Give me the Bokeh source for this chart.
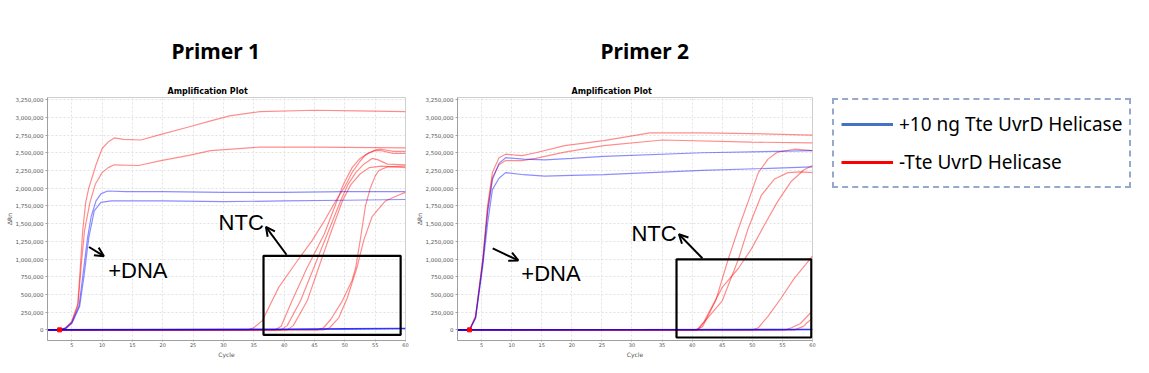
from bokeh.plotting import figure
from bokeh.models import (Range1d, FixedTicker, NumeralTickFormatter, Label, Arrow,
                          OpenHead, BoxAnnotation, Legend, LegendItem, Title)
from bokeh.layouts import row
from bokeh.embed import file_html
from bokeh.resources import INLINE

# ---------------- data (cycle, delta Rn in millions) ----------------
x_ticks = [5, 10, 15, 20, 25, 30, 35, 40, 45, 50, 55, 60]
y_ticks = [0, 250000, 500000, 750000, 1000000, 1250000, 1500000, 1750000,
           2000000, 2250000, 2500000, 2750000, 3000000, 3250000]
panel_titles = ["Primer 1", "Primer 2"]
legend_labels = ["+10 ng Tte UvrD Helicase", "-Tte UvrD Helicase"]
# off-range placeholder points used only as legend keys (never visible)
legend_key_x = [-2, -1]
legend_key_y = [-1, -1]
start_marker_cycle = [3]
start_marker_value = [0.0]

# Primer 1: +DNA with helicase (blue)
p1_dna_hel_a = [(1, 0), (3, 0), (4, 0.02), (5, 0.1), (5.5, 0.2), (6.2, 0.34), (6.8, 0.75),
                (7.6, 1.3), (8.2, 1.6), (9, 1.82), (9.8, 1.92), (10.9, 1.96), (14, 1.95),
                (20, 1.95), (30, 1.94), (40, 1.94), (50, 1.95), (60, 1.95)]
p1_dna_hel_b = [(1, 0), (3, 0), (4, 0.02), (5, 0.09), (5.5, 0.18), (6.3, 0.33), (7, 0.75),
                (7.8, 1.3), (8.7, 1.68), (9.8, 1.8), (11.5, 1.82), (20, 1.82), (30, 1.81),
                (40, 1.82), (50, 1.83), (60, 1.84)]
# Primer 1: +DNA without helicase (red)
p1_dna_nohel_a = [(1, 0), (3, 0), (4, 0.03), (5, 0.12), (6, 0.37), (6.5, 1.0), (6.8, 1.4),
                  (7.3, 1.8), (7.8, 2.0), (9, 2.33), (10, 2.56), (11.1, 2.66), (12, 2.71),
                  (13.5, 2.69), (16.4, 2.68), (19.7, 2.76), (24.1, 2.86), (27.9, 2.95),
                  (31, 3.02), (36, 3.08), (45, 3.1), (52, 3.09), (60, 3.08)]
p1_dna_nohel_b = [(1, 0), (3, 0), (4, 0.03), (5, 0.11), (6, 0.34), (6.6, 0.95), (7.1, 1.4),
                  (8, 1.8), (8.9, 2.06), (10, 2.22), (11, 2.29), (12, 2.33), (16, 2.32),
                  (19.7, 2.39), (24.1, 2.46), (27.9, 2.53), (36, 2.58), (45, 2.58), (60, 2.57)]
# Primer 1: NTC with helicase (blue)
p1_ntc_hel = [(1, 0), (20, 0.004), (40, 0.008), (50, 0.014), (60, 0.02)]
# Primer 1: NTC without helicase (red)
p1_ntc_nohel_a = [(1, 0), (34, 0), (35, 0.03), (36.4, 0.13), (39.1, 0.6), (41.8, 0.93),
                  (44.6, 1.26), (46.5, 1.52), (48.5, 1.82), (50, 2.02), (51.2, 2.22),
                  (52.5, 2.38), (53.4, 2.47), (55, 2.54), (56, 2.55), (58, 2.52), (60, 2.52)]
p1_ntc_nohel_b = [(1, 0), (38.5, 0), (39.5, 0.05), (41.3, 0.41), (43.8, 0.88), (46.6, 1.35),
                  (48.7, 1.82), (49.8, 2.06), (51.2, 2.29), (52.5, 2.42), (54, 2.5),
                  (55, 2.53), (56, 2.53), (58, 2.49), (60, 2.49)]
p1_ntc_nohel_c = [(1, 0), (39.5, 0), (40.5, 0.06), (42.7, 0.41), (44.9, 0.88), (47.1, 1.35),
                  (49.3, 1.82), (50.5, 2.05), (51.8, 2.22), (53, 2.33), (54.5, 2.42),
                  (55.5, 2.4), (57, 2.34), (60, 2.33)]
p1_ntc_nohel_d = [(1, 0), (40.5, 0), (41.5, 0.06), (43.8, 0.41), (45.7, 0.88), (47.6, 1.35),
                  (49.6, 1.82), (51, 2.05), (52.5, 2.2), (54, 2.29), (56, 2.31), (60, 2.29)]
p1_ntc_nohel_e = [(1, 0), (45.5, 0), (46.5, 0.03), (47.7, 0.15), (49.6, 0.41), (51.2, 0.7),
                  (51.8, 0.88), (52.6, 1.3), (53.4, 1.75), (54.2, 2.0), (55, 2.17),
                  (55.6, 2.25), (57, 2.3), (60, 2.31)]
p1_ntc_nohel_f = [(1, 0), (46.5, 0), (47.5, 0.03), (49, 0.17), (50.4, 0.45), (52, 0.88),
                  (53.1, 1.26), (54.5, 1.6), (55.5, 1.7), (56.7, 1.82), (58.5, 1.89), (60, 1.94)]

# Primer 2: +DNA with helicase (blue)
p2_dna_hel_a = [(1, 0), (3, 0), (4, 0.17), (5.2, 0.95), (6, 1.65), (6.8, 2.12), (7.9, 2.35),
                (9, 2.43), (12, 2.41), (15.5, 2.4), (20, 2.42), (25.3, 2.45), (41.7, 2.5),
                (60, 2.53)]
p2_dna_hel_b = [(1, 0), (3, 0), (4, 0.16), (5.2, 0.9), (6, 1.5), (6.8, 1.98), (7.9, 2.14),
                (9, 2.22), (12, 2.19), (15.5, 2.17), (20, 2.18), (25.3, 2.19), (41.7, 2.25),
                (60, 2.3)]
# Primer 2: +DNA without helicase (red)
p2_dna_nohel_a = [(1, 0), (3, 0), (4, 0.2), (5.2, 1.0), (6, 1.75), (6.8, 2.22), (7.9, 2.43),
                  (9, 2.48), (10.3, 2.47), (11.7, 2.46), (14, 2.5), (18.8, 2.6), (25.3, 2.67),
                  (33, 2.78), (41.7, 2.78), (49.9, 2.77), (60, 2.75)]
p2_dna_nohel_b = [(1, 0), (3, 0), (4, 0.18), (5.2, 0.98), (6, 1.7), (6.8, 2.15), (7.9, 2.33),
                  (9, 2.39), (11.7, 2.39), (14, 2.42), (18.8, 2.51), (25.3, 2.6), (35.1, 2.68),
                  (49.9, 2.65), (60, 2.64)]
# Primer 2: NTC with helicase (blue)
p2_ntc_hel = [(1, 0), (30, 0.002), (60, 0.005)]
# Primer 2: NTC without helicase (red)
p2_ntc_nohel_a = [(1, 0), (40.5, 0), (41.7, 0.04), (43.9, 0.41), (46, 1.0), (47.7, 1.43),
                  (49.3, 1.81), (51, 2.22), (52.6, 2.41), (54.2, 2.51), (57, 2.55), (60, 2.53)]
p2_ntc_nohel_b = [(1, 0), (41, 0), (42.2, 0.13), (45, 0.41), (47.7, 1.0), (49.3, 1.43),
                  (51.5, 1.9), (53.7, 2.13), (55.9, 2.22), (58, 2.23), (60, 2.22)]
p2_ntc_nohel_c = [(1, 0), (40.8, 0), (42, 0.12), (45, 0.6), (47.7, 0.87), (49.9, 1.15),
                  (52, 1.48), (54.2, 1.81), (56.4, 2.09), (58.6, 2.26), (60, 2.32)]
p2_ntc_nohel_d = [(1, 0), (50, 0), (51, 0.03), (52.6, 0.19), (54.8, 0.45), (57, 0.73), (60, 1.04)]
p2_ntc_nohel_e = [(1, 0), (55.5, 0), (56.5, 0.03), (58, 0.09), (60, 0.27)]
p2_ntc_nohel_f = [(1, 0), (57, 0), (58.5, 0.05), (59.1, 0.1), (60, 0.17)]

RED = "#ff0000"
BLUE = "#0000ff"
H = 365
TOP = 97
BOTTOM = 25


def xs_ys(curve):
    return [c for c, _ in curve], [v * 1e6 for _, v in curve]


def make_panel(width, left_border, right_border, red_curves, blue_curves, ntc_blue, title,
               title_off, sub_off, dna_label, dna_arrow, ntc_label, ntc_arrow, box):
    p = figure(width=width, height=H, x_range=Range1d(1, 60),
               y_range=Range1d(-150000, 3280000), output_backend="svg",
               toolbar_location=None, title=None,
               min_border_left=left_border, min_border_right=right_border,
               min_border_top=TOP, min_border_bottom=BOTTOM)
    p.background_fill_color = "white"
    p.border_fill_color = "white"
    p.outline_line_color = "#cfcfcf"

    for ax in (p.xaxis[0], p.yaxis[0]):
        ax.axis_line_color = "#a0a0a0"
        ax.major_tick_line_color = "#a0a0a0"
        ax.major_tick_in = 0
        ax.minor_tick_line_color = None
        ax.major_label_text_color = "#555555"
        ax.major_label_text_font = "DejaVu Sans"
        ax.axis_label_text_font = "DejaVu Sans"
        ax.axis_label_text_font_style = "normal"
        ax.axis_label_text_color = "#555555"
        ax.axis_label_text_font_size = "6px"
    p.xaxis.ticker = FixedTicker(ticks=x_ticks)
    p.yaxis.ticker = FixedTicker(ticks=y_ticks)
    p.yaxis.formatter = NumeralTickFormatter(format="0,0")
    p.xaxis.major_label_text_font_size = "5px"
    p.yaxis.major_label_text_font_size = "5.5px"
    p.xaxis.major_tick_out = 1
    p.yaxis.major_tick_out = 2
    p.xaxis.major_label_standoff = 1
    p.yaxis.major_label_standoff = 2
    p.xaxis.axis_label = "Cycle"
    p.yaxis.axis_label = "ΔRn"
    p.xaxis.axis_label_standoff = 1
    p.yaxis.axis_label_standoff = 0
    for g in (p.xgrid[0], p.ygrid[0]):
        g.grid_line_color = "#e2e2e2"
        g.grid_line_dash = "2 2"

    for c in red_curves:
        x, y = xs_ys(c)
        p.line(x, y, line_color=RED, line_alpha=0.45, line_width=1.2)
    for c in blue_curves:
        x, y = xs_ys(c)
        p.line(x, y, line_color=BLUE, line_alpha=0.45, line_width=1.2)
    x, y = xs_ys(ntc_blue)
    p.line(x, y, line_color=BLUE, line_alpha=0.8, line_width=1.6)
    p.scatter([c for c in start_marker_cycle], [v * 1e6 for v in start_marker_value],
              marker="square", size=4, color=RED)

    # titles (closest to the frame first)
    p.add_layout(Title(text="Amplification Plot", align="left", offset=sub_off,
                       standoff=3, text_font="DejaVu Sans", text_font_size="8px",
                       text_font_style="bold", text_color="black"), "above")
    p.add_layout(Title(text=title, align="left", offset=title_off, standoff=37,
                       text_font="Noto Sans", text_font_size="21px",
                       text_font_style="bold", text_color="black"), "above")

    p.add_layout(Label(x=dna_label[0], y=dna_label[1], text="+DNA", text_align="left",
                       text_baseline="middle", text_font="Liberation Sans",
                       text_font_size="22px", text_color="black"))
    p.add_layout(Label(x=ntc_label[0], y=ntc_label[1], text="NTC", text_align="left",
                       text_baseline="middle", text_font="Liberation Sans",
                       text_font_size="22px", text_color="black"))
    for a in (dna_arrow, ntc_arrow):
        p.add_layout(Arrow(end=OpenHead(size=9, line_width=2, line_color="black"),
                           x_start=a[0], y_start=a[1], x_end=a[2], y_end=a[3],
                           line_width=2, line_color="black"))
    p.add_layout(BoxAnnotation(left=box[0], right=box[1], bottom=box[2], top=box[3],
                               fill_alpha=0, line_color="black", line_alpha=1,
                               line_width=2.2))
    return p


fig1 = make_panel(
    412, 47, 7,
    [p1_ntc_nohel_a, p1_ntc_nohel_b, p1_ntc_nohel_c, p1_ntc_nohel_d, p1_ntc_nohel_e,
     p1_ntc_nohel_f, p1_dna_nohel_a, p1_dna_nohel_b],
    [p1_dna_hel_a, p1_dna_hel_b], p1_ntc_hel, panel_titles[0], 124, 120,
    (11.0, 833000), (7.85, 1170000, 10.3, 1040000),
    (29.2, 1510000), (40.4, 1060000, 37.0, 1455000),
    (36.6, 59.2, -71000, 1045000))

fig2 = make_panel(
    411, 39, 11,
    [p2_ntc_nohel_a, p2_ntc_nohel_b, p2_ntc_nohel_c, p2_ntc_nohel_d, p2_ntc_nohel_e,
     p2_ntc_nohel_f, p2_dna_nohel_a, p2_dna_nohel_b],
    [p2_dna_hel_a, p2_dna_hel_b], p2_ntc_hel, panel_titles[1], 143, 114,
    (11.6, 800000), (6.85, 1150000, 11.1, 980000),
    (29.9, 1360000), (41.7, 1010000, 37.8, 1350000),
    (37.4, 59.8, -108000, 996000))

# legend panel
fig3 = figure(width=318, height=H, x_range=Range1d(0, 1), y_range=Range1d(0, 1),
              output_backend="svg", toolbar_location=None, title=None,
              x_axis_type=None, y_axis_type=None, min_border_left=0, min_border_right=0,
              min_border_top=TOP, min_border_bottom=BOTTOM)
fig3.grid.visible = False
fig3.outline_line_color = None
fig3.background_fill_color = "white"
fig3.border_fill_color = "white"
rb = fig3.line(x=legend_key_x, y=legend_key_y, line_color="#4472c4", line_width=3)
rr = fig3.line(x=legend_key_x, y=legend_key_y, line_color="#ff0000", line_width=3)
legend = Legend(items=[LegendItem(label=legend_labels[0], renderers=[rb]),
                       LegendItem(label=legend_labels[1], renderers=[rr])],
                location=(9, 152), orientation="vertical",
                border_line_color="#2f5597", border_line_dash="4 3", border_line_width=2,
                background_fill_color="white", background_fill_alpha=1,
                label_text_font="Noto Sans", label_text_font_size="19px",
                label_text_color="black", glyph_width=52, glyph_height=34,
                label_height=34, label_standoff=6, spacing=4, padding=7, margin=0)
fig3.add_layout(legend)

layout = row(fig1, fig2, fig3)
open("out.html", "w").write(file_html(layout, INLINE))
